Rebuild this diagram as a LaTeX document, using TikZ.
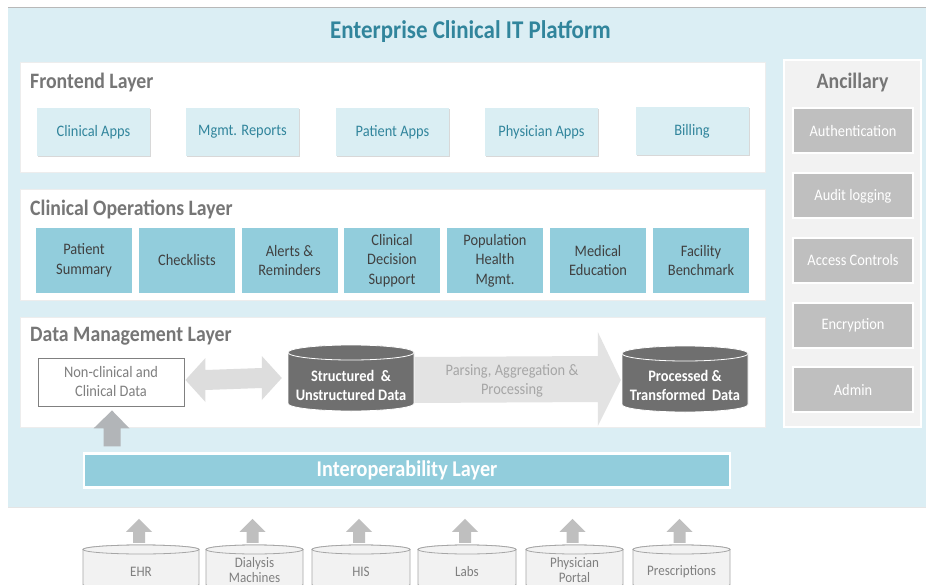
\documentclass[tikz,border=0pt]{standalone}
\usepackage{fontspec}
\setmainfont{Carlito}[FakeStretch=0.9]
\usetikzlibrary{calc,shadows}
\definecolor{bgblue}{HTML}{DBEEF4}
\definecolor{fbfill}{HTML}{DAEEF3}
\definecolor{teal1}{HTML}{31859C}
\definecolor{opsfill}{HTML}{92CDDC}
\definecolor{lblgrey}{HTML}{767676}
\definecolor{opstext}{HTML}{404040}
\definecolor{darkcyl}{HTML}{6F6F6F}
\definecolor{arrgrey}{HTML}{DDDDDD}
\definecolor{bigarrgrey}{HTML}{E3E3E3}
\definecolor{ancfill}{HTML}{F2F2F2}
\definecolor{ancbox}{HTML}{BFBFBF}
\definecolor{upgrey}{HTML}{B2B5B8}
\definecolor{srcline}{HTML}{A6A6A6}
\definecolor{srctext}{HTML}{7F7F7F}
\newcommand\mycyl[7]{%
  \path[#7] ({#2-#5},{#3+#6}) -- ({#2-#5},{#4-#6})
    arc[start angle=180,end angle=360,x radius=#5pt,y radius=#6pt]
    -- ({#2+#5},{#3+#6})
    arc[start angle=0,end angle=180,x radius=#5pt,y radius=#6pt] -- cycle;
  \path[#7] (#2,{#3+#6}) ellipse[x radius=#5pt,y radius=#6pt];
  \node[inner sep=0,minimum width={2*#5pt},minimum height={(#4-#3)*1pt}] (#1) at (#2,{(#3+#4)/2}) {};
}
\newcommand\srcarrow[1]{%
  \fill[srcarr] ($(#1.north)+(-2,-26)$) -- ($(#1.north)+(11,-13)$) -- ($(#1.north)+(4,-13)$)
    -- ($(#1.north)+(4,-2)$) -- ($(#1.north)+(-8,-2)$) -- ($(#1.north)+(-8,-13)$)
    -- ($(#1.north)+(-15,-13)$) -- cycle;}
\tikzset{
  layerbox/.style={fill=white,draw=black!7,line width=0.6pt,inner sep=0},
  layerlbl/.style={anchor=west,inner sep=0,text=lblgrey,font=\fontsize{22}{26}\selectfont\bfseries},
  fbox/.style={fill=fbfill,text=teal1,inner sep=0,minimum width=113pt,minimum height=48pt,
    font=\fontsize{16}{19.5}\selectfont,
    drop shadow={shadow xshift=1.2pt,shadow yshift=-1.2pt,fill=black!25,opacity=0.6}},
  opsbox/.style={fill=opsfill,text=opstext,inner sep=0,minimum width=96pt,minimum height=65pt,
    align=center,font=\fontsize{16}{19.5}\selectfont},
  ancbx/.style={fill=ancbox,draw=white,line width=2pt,text=white,inner sep=0,
    minimum width=120pt,minimum height=45pt,font=\fontsize{16}{19.5}\selectfont},
  darkcylstyle/.style={fill=darkcyl,draw=white,line width=0.8pt},
  darktxt/.style={text=white,align=center,inner sep=0,font=\fontsize{16}{19}\selectfont\bfseries},
  srccyl/.style={fill=ancfill,draw=srcline,line width=0.8pt},
  srctxt/.style={text=srctext,align=center,inner sep=0,font=\fontsize{14.5}{15}\selectfont},
  srcarr/.style={fill=ancbox},
}
\begin{document}
\begin{tikzpicture}[x=1pt,y=-1pt]
\useasboundingbox (0,0) rectangle (926,585);
\clip (0,0) rectangle (926,585);
\fill[white] (0,0) rectangle (926,585);
% platform background
\fill[bgblue] (8,8) rectangle (926,507);
\draw[black!28,line width=1pt] (8,7.5) -- (926,7.5);
\draw[black!10,line width=0.8pt] (8,507) -- (926,507);
\node[inner sep=0,text=teal1,font=\fontsize{25.5}{30}\selectfont\bfseries] (title) at (470.5,31.5) {Enterprise Clinical IT Platform};

% Frontend layer
\node[layerbox,minimum width=745pt,minimum height=110pt] (fe) at (392.5,117) {};
\node[layerlbl] (felbl) at (30,82.5) {Frontend Layer};
\node[fbox] (capps) at (93.5,132) {Clinical Apps};
\node[fbox] (mrep) at (242.5,132) {Mgmt. Reports};
\node[fbox] (papps) at (392.5,132) {Patient Apps};
\node[fbox] (phapps) at (541.5,132) {Physician Apps};
\node[fbox] (bill) at (692,131) {Billing};

% Clinical operations layer
\node[layerbox,minimum width=745pt,minimum height=111pt] (co) at (392.5,244.5) {};
\node[layerlbl] (colbl) at (30,209.5) {Clinical Operations Layer};
\node[opsbox] (psum) at (84,260.5) {Patient\\Summary};
\node[opsbox] (chk) at (187,260.5) {Checklists};
\node[opsbox] (alr) at (289.5,260.5) {Alerts \&\\Reminders};
\node[opsbox] (cds) at (392,260.5) {Clinical\\Decision\\Support};
\node[opsbox] (phm) at (495,260.5) {Population\\Health\\Mgmt.};
\node[opsbox] (medu) at (598,260.5) {Medical\\Education};
\node[opsbox] (fben) at (701,260.5) {Facility\\Benchmark};

% Data management layer
\node[layerbox,minimum width=745pt,minimum height=110pt] (dm) at (392.5,372) {};
\node[layerlbl] (dmlbl) at (30,336.5) {Data Management Layer};
\node[fill=white,draw=black!50,line width=0.9pt,inner sep=0,minimum width=146pt,minimum height=48pt,
  align=center,text=srctext,font=\fontsize{16}{19}\selectfont] (noncl) at (111,382) {Non-clinical and\\Clinical Data};
\mycyl{sud}{351}{345}{411}{63}{7.5}{darkcylstyle}
\node[darktxt] (sud-t) at (351,385.5) {Structured~~\&\\Unstructured Data};
\mycyl{ptd}{685}{346}{412}{63}{7.5}{darkcylstyle}
\node[darktxt] (ptd-t) at (685,385) {Processed \&\\Transformed~~Data};
% double arrow
\fill[arrgrey] ($(noncl.east)+(1,-2)$) -- ($(noncl.east)+(21,-24)$) -- ($(noncl.east)+(21,-12)$)
  -- ($(sud.west)+(-26,-10)$) -- ($(sud.west)+(-26,-22)$) -- ($(sud.west)+(-6,0)$)
  -- ($(sud.west)+(-26,22)$) -- ($(sud.west)+(-26,10)$) -- ($(noncl.east)+(21,8)$)
  -- ($(noncl.east)+(21,20)$) -- cycle;
% big processing arrow
\fill[bigarrgrey] ($(sud.east)+(0.5,-21)$) -- ($(ptd.west)+(-24,-23)$) -- ($(ptd.west)+(-24,-47)$)
  -- ($(ptd.west)+(-1,1)$) -- ($(ptd.west)+(-24,47)$) -- ($(ptd.west)+(-24,23)$)
  -- ($(sud.east)+(0.5,25)$) -- cycle;
\node[inner sep=0,align=center,text=srcline,font=\fontsize{16}{19}\selectfont] (parse) at (512,381) {Parsing, Aggregation \&\\Processing};

% Interoperability layer
\node[fill=opsfill,draw=white,line width=2.5pt,inner sep=0,minimum width=646pt,minimum height=34pt,
  text=white,font=\fontsize{22.5}{26}\selectfont\bfseries] (interop) at (407,470.5) {Interoperability Layer};
\coordinate (uptip) at ($(noncl.south)+(1,4)$);
\fill[upgrey] (uptip) -- ($(uptip)+(17.5,18)$) -- ($(uptip)+(8.5,18)$) -- ($(uptip |- interop.north)+(8.5,-6)$)
  -- ($(uptip |- interop.north)+(-8.5,-6)$) -- ($(uptip)+(-8.5,18)$) -- ($(uptip)+(-18.5,18)$) -- cycle;

% Ancillary
\node[fill=ancfill,draw=white,line width=1.5pt,inner sep=0,minimum width=137pt,minimum height=367pt] (anc) at (852.5,243.5) {};
\node[inner sep=0,text=lblgrey,font=\fontsize{22}{26}\selectfont\bfseries] (anclbl) at (852.5,82.5) {Ancillary};
\node[ancbx] (auth) at (853,131) {Authentication};
\node[ancbx] (audit) at (853,196) {Audit logging};
\node[ancbx] (acc) at (853,260.5) {Access Controls};
\node[ancbx] (enc) at (853,325) {Encryption};
\node[ancbx] (adm) at (853,389.5) {Admin};

% Sources
\mycyl{ehr}{141}{545}{589}{58}{4.5}{srccyl}
\node[srctxt] (ehr-t) at (141,572) {EHR};
\mycyl{dial}{254.5}{545}{589}{48.5}{4.5}{srccyl}
\node[srctxt] (dial-t) at (254.5,570.5) {Dialysis\\Machines};
\mycyl{his}{361}{545}{589}{49}{4.5}{srccyl}
\node[srctxt] (his-t) at (361,572) {HIS};
\mycyl{labs}{467}{545}{589}{49}{4.5}{srccyl}
\node[srctxt] (labs-t) at (467,572) {Labs};
\mycyl{ppor}{574.5}{545}{589}{48.5}{4.5}{srccyl}
\node[srctxt] (ppor-t) at (574.5,570.5) {Physician\\Portal};
\mycyl{presc}{681.5}{545}{589}{48.5}{4.5}{srccyl}
\node[srctxt] (presc-t) at (681.5,572) {Prescriptions};
\srcarrow{ehr}
\srcarrow{dial}
\srcarrow{his}
\srcarrow{labs}
\srcarrow{ppor}
\srcarrow{presc}
\end{tikzpicture}
\end{document}
